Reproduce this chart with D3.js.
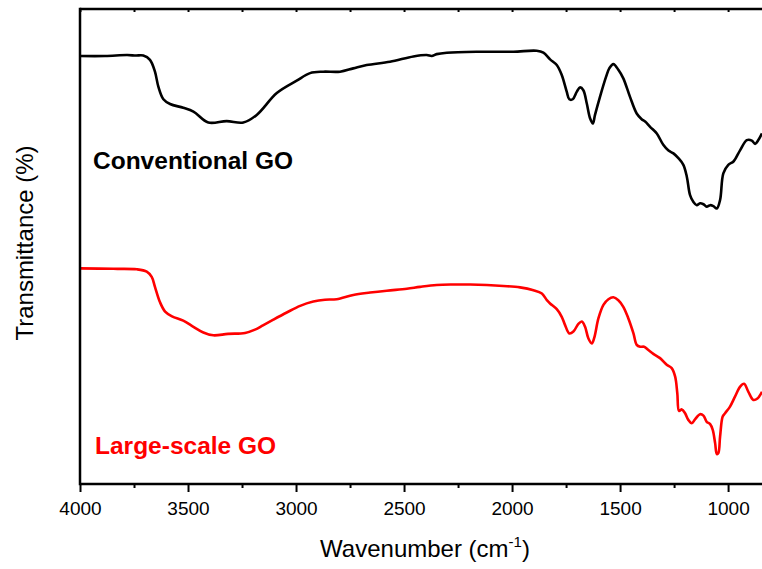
<!DOCTYPE html>
<html>
<head>
<meta charset="utf-8">
<script src="https://cdn.jsdelivr.net/npm/d3@7/dist/d3.min.js"></script>
<style>
  html, body { margin: 0; padding: 0; background: #fff; }
  svg { display: block; }
  text { font-family: Arial, "Liberation Sans", sans-serif; }
</style>
</head>
<body>
<svg id="chart" width="762" height="569"></svg>
<script>
// FTIR spectra of two graphene oxide samples (transmittance, arbitrary offset)
const conventionalWn = [4000,3884,3782,3741,3707,3676,3653,3637,3614,3583,3522,3475,3406,3321,3244,3182,3089,2997,2935,2874,2796,2735,2673,2565,2457,2395,2372,2349,2302,2148,1994,1886,1855,1824,1793,1770,1747,1735,1719,1700,1685,1670,1654,1639,1626,1616,1593,1565,1550,1531,1508,1485,1454,1423,1400,1384,1361,1330,1300,1276,1253,1230,1207,1191,1176,1161,1145,1130,1114,1099,1083,1068,1052,1037,1022,999,975,944,913,890,875,860,843];
const conventionalT = [90.1,90.1,90.3,90.2,90.2,89.3,86.8,83.6,81.0,80.0,79.2,78.4,76.1,76.4,76.1,77.7,82.3,84.9,86.5,86.8,86.8,87.5,88.2,88.9,90.0,90.3,90.1,90.5,90.8,91.0,91.0,91.2,90.8,89.4,88.2,86.1,82.6,81.0,81.0,82.6,83.5,82.9,80.1,77.0,75.9,77.7,81.5,85.7,87.5,88.4,87.2,85.4,81.5,78.0,76.8,76.3,75.2,73.8,71.4,70.2,69.6,68.6,67.2,64.7,60.8,59.4,58.7,59.1,58.9,58.4,58.7,58.5,58.0,59.8,65.4,67.2,67.9,70.3,72.4,72.3,71.6,72.4,73.8];

const largeScaleWn = [4000,3846,3737,3691,3668,3653,3630,3606,3574,3522,3475,3429,3383,3315,3236,3190,3153,3105,3043,2981,2920,2866,2812,2735,2657,2580,2487,2426,2349,2272,2194,2117,2040,1963,1901,1862,1839,1824,1793,1770,1755,1735,1716,1693,1677,1662,1647,1631,1620,1600,1577,1554,1531,1508,1485,1462,1438,1423,1407,1389,1369,1346,1315,1284,1261,1245,1235,1227,1214,1199,1184,1168,1153,1130,1114,1099,1083,1071,1060,1052,1045,1037,1025,1014,991,968,944,926,906,883,864,843];
const largeScaleT = [45.4,45.3,45.2,44.7,43.6,41.5,38.3,36.3,35.3,34.4,33.1,31.9,31.3,31.6,31.8,32.5,33.4,34.6,36.1,37.5,38.4,38.8,38.9,39.8,40.3,40.7,41.1,41.5,41.9,42.0,42.0,41.9,41.7,41.4,40.8,40.1,38.7,38.0,36.8,35.2,33.5,31.7,32.1,33.7,34.2,33.1,30.7,29.6,30.7,34.9,37.7,38.9,39.3,38.7,37.3,34.9,31.7,29.3,28.9,28.9,28.2,27.4,26.5,25.1,24.4,22.6,19.1,15.4,15.7,14.9,13.5,12.8,13.6,14.7,14.4,13.1,12.6,11.4,8.6,6.3,6.5,10.0,14.2,14.9,16.3,18.4,20.5,21.1,19.4,17.7,18.0,19.4];

const seriesNames = ["Conventional GO", "Large-scale GO"];
const seriesColors = ["#000000", "#ff0000"];
const majorTicks = [4000, 3500, 3000, 2500, 2000, 1500, 1000];
const minorTicks = [3750, 3250, 2750, 2250, 1750, 1250];

const svg = d3.select("#chart");
const plotLeft = 80, plotRight = 762, plotTop = 9, plotBottom = 484;

const x = d3.scaleLinear().domain([4000, 843]).range([plotLeft, plotRight]);
const y = d3.scaleLinear().domain([0, 100]).range([plotBottom, plotTop]);

const series = [
  conventionalWn.map((w, i) => [w, conventionalT[i]]),
  largeScaleWn.map((w, i) => [w, largeScaleT[i]])
];

svg.append("defs").append("clipPath").attr("id", "plot-clip")
  .append("rect").attr("x", plotLeft).attr("y", plotTop - 2)
  .attr("width", plotRight - plotLeft).attr("height", plotBottom - plotTop + 4);

const line = d3.line()
  .x(d => x(d[0]))
  .y(d => y(d[1]))
  .curve(d3.curveCatmullRom.alpha(0.5));

const plot = svg.append("g").attr("clip-path", "url(#plot-clip)");
series.forEach((s, i) => {
  plot.append("path")
    .datum(s)
    .attr("fill", "none")
    .attr("stroke", seriesColors[i])
    .attr("stroke-width", 2.6)
    .attr("stroke-linejoin", "round")
    .attr("d", line);
});

// bottom axis: major ticks with labels, minor ticks without
const xAxis = svg.append("g").attr("transform", `translate(0,${plotBottom})`)
  .call(d3.axisBottom(x).tickValues(majorTicks).tickSize(8).tickPadding(10).tickFormat(d3.format("d")));
xAxis.select(".domain").remove();
xAxis.selectAll(".tick line").attr("stroke", "#000").attr("stroke-width", 2);
xAxis.selectAll(".tick text").attr("font-size", 19).attr("fill", "#000")
  .attr("font-family", "Arial, 'Liberation Sans', sans-serif");

const xMinor = svg.append("g").attr("transform", `translate(0,${plotBottom})`)
  .call(d3.axisBottom(x).tickValues(minorTicks).tickSize(4).tickFormat(""));
xMinor.select(".domain").remove();
xMinor.selectAll(".tick line").attr("stroke", "#000").attr("stroke-width", 2);

// top frame ticks pointing inward
const xTop = svg.append("g").attr("transform", `translate(0,${plotTop})`)
  .call(d3.axisBottom(x).tickValues(majorTicks.concat(minorTicks)).tickSize(3).tickFormat(""));
xTop.select(".domain").remove();
xTop.selectAll(".tick line").attr("stroke", "#000").attr("stroke-width", 2);

// frame lines
svg.append("line").attr("x1", plotLeft).attr("x2", plotRight).attr("y1", plotBottom).attr("y2", plotBottom)
  .attr("stroke", "#000").attr("stroke-width", 2.5);
svg.append("line").attr("x1", plotLeft).attr("x2", plotRight).attr("y1", plotTop).attr("y2", plotTop)
  .attr("stroke", "#000").attr("stroke-width", 2.5);
svg.append("line").attr("x1", plotLeft).attr("x2", plotLeft).attr("y1", plotTop - 1.25).attr("y2", plotBottom + 1.25)
  .attr("stroke", "#000").attr("stroke-width", 2.5);

// axis titles
const xTitle = svg.append("text")
  .attr("x", 425).attr("y", 557)
  .attr("text-anchor", "middle").attr("font-size", 24).attr("fill", "#000");
xTitle.append("tspan").text("Wavenumber (cm");
xTitle.append("tspan").attr("font-size", 15).attr("dy", -10).text("-1");
xTitle.append("tspan").attr("dy", 10).text(")");

svg.append("text")
  .attr("transform", "translate(33,243) rotate(-90)")
  .attr("text-anchor", "middle").attr("font-size", 24).attr("fill", "#000")
  .text("Transmittance (%)");

// series labels
const labelPos = [[93, 169], [95, 454]];
seriesNames.forEach((name, i) => {
  svg.append("text")
    .attr("x", labelPos[i][0]).attr("y", labelPos[i][1])
    .attr("font-size", 24.5).attr("font-weight", "bold")
    .attr("fill", seriesColors[i])
    .text(name);
});
</script>
</body>
</html>
